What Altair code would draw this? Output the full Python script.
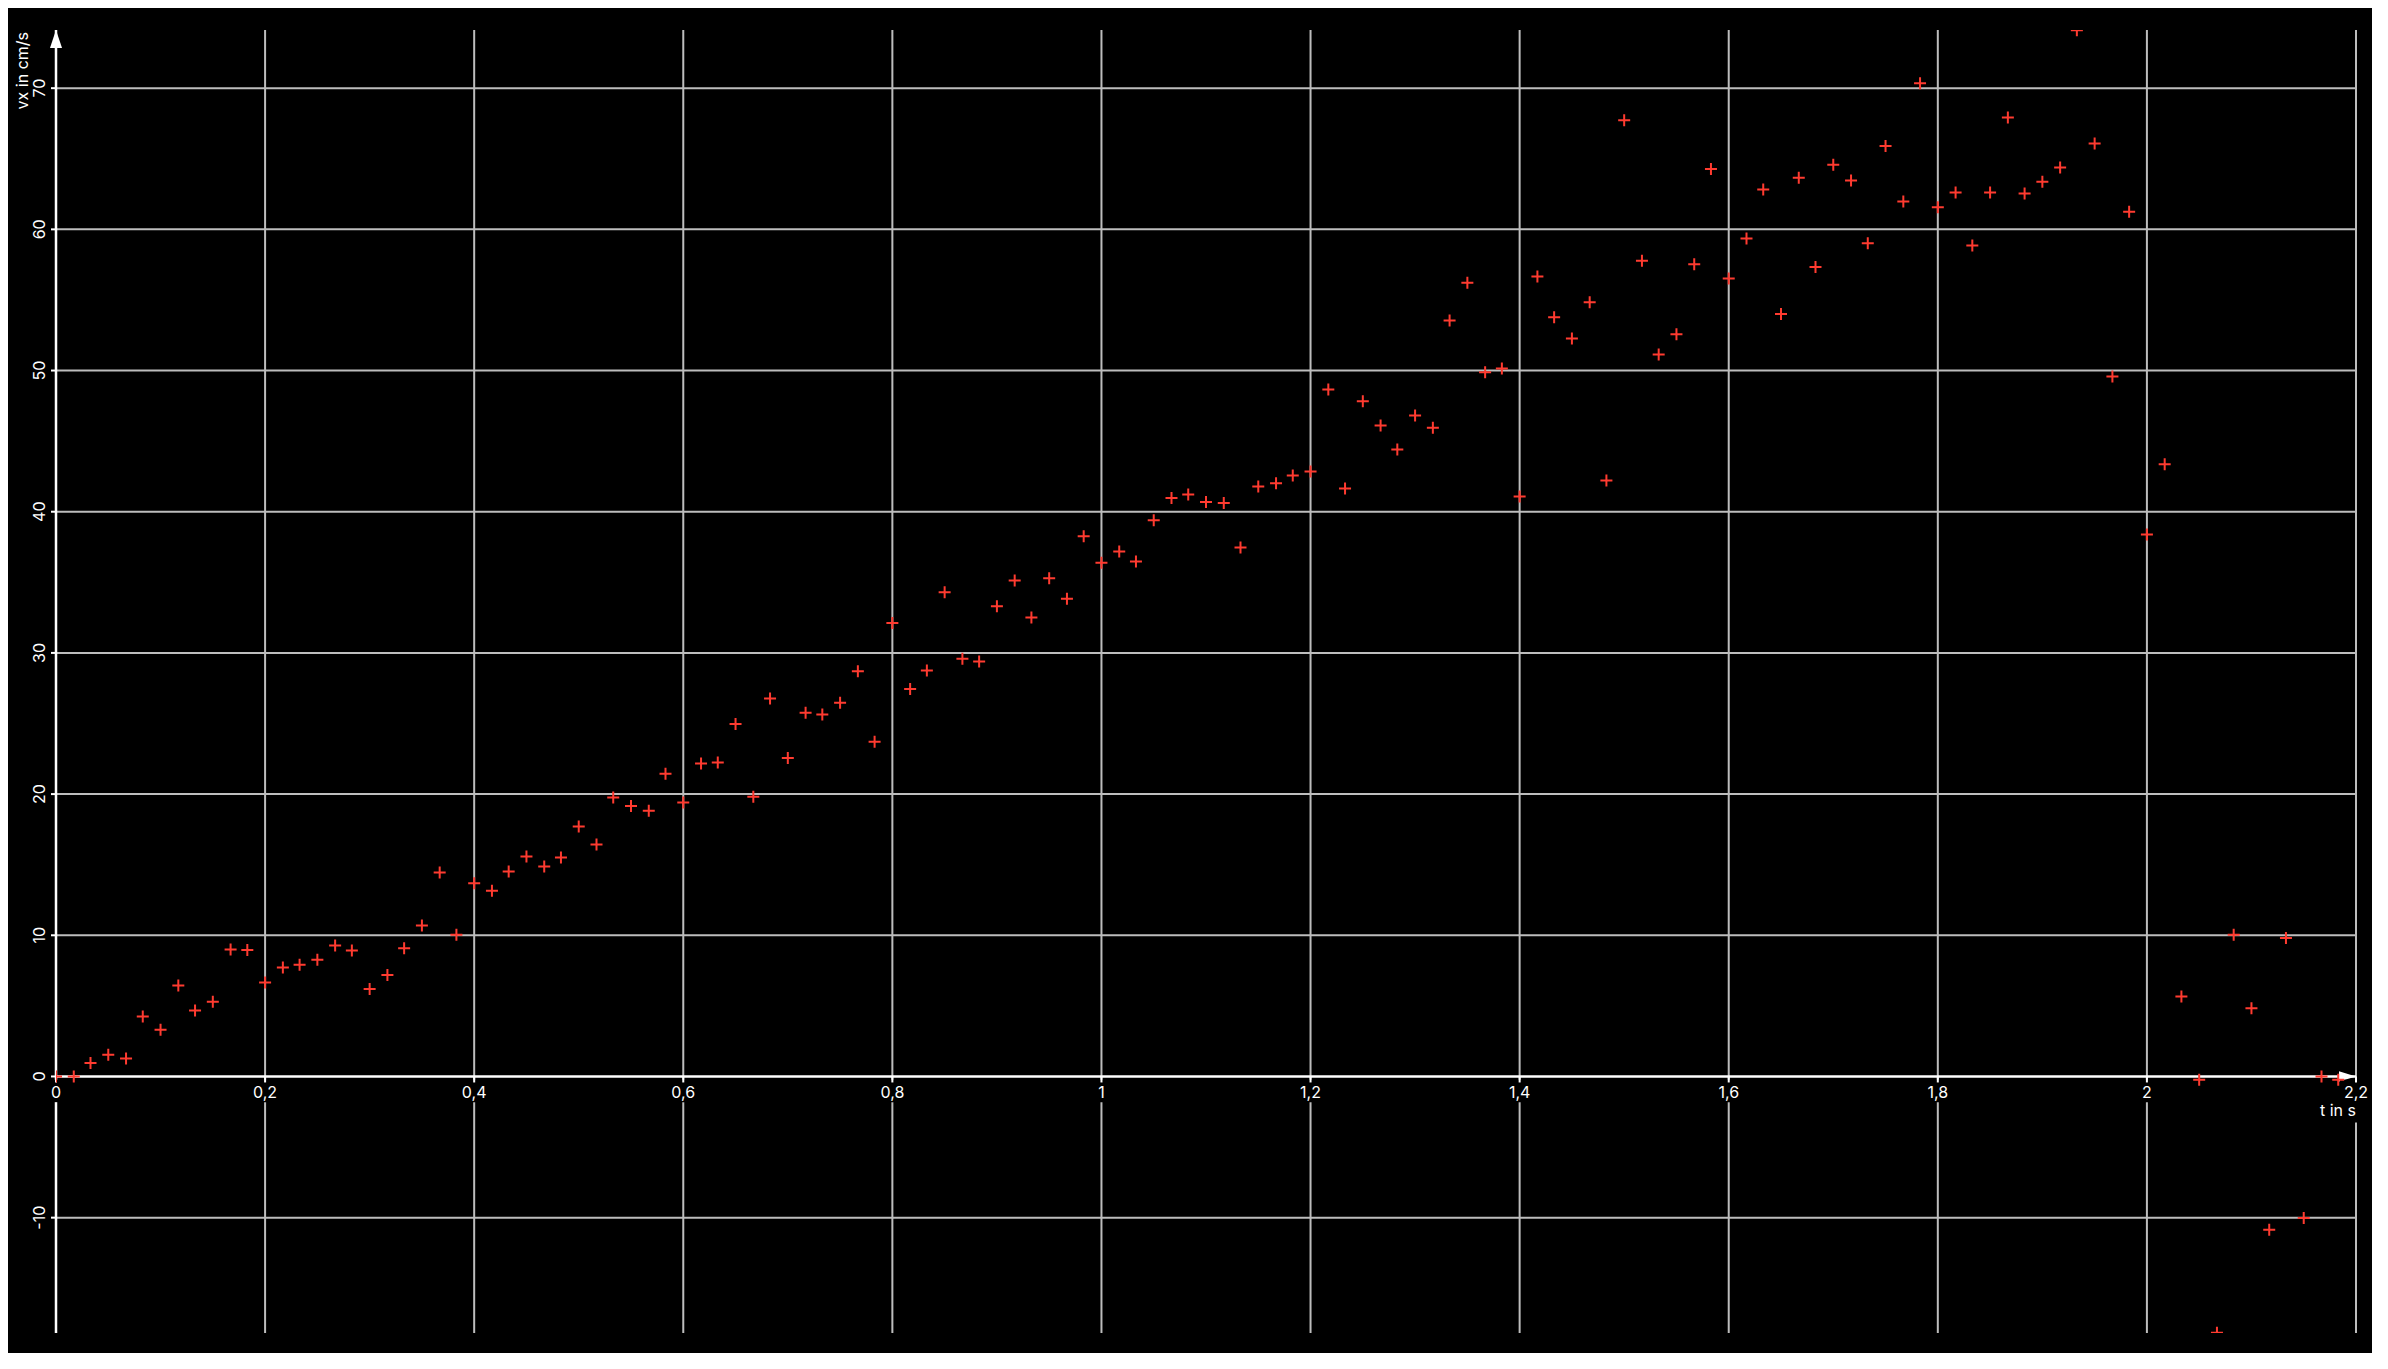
import altair as alt
import pandas as pd

# time stamps (s) and measured velocity vx (cm/s), 60 frames per second
T = [
    0.000, 0.017, 0.033, 0.050, 0.067, 0.083,
    0.100, 0.117, 0.133, 0.150, 0.167, 0.183,
    0.200, 0.217, 0.233, 0.250, 0.267, 0.283,
    0.300, 0.317, 0.333, 0.350, 0.367, 0.383,
    0.400, 0.417, 0.433, 0.450, 0.467, 0.483,
    0.500, 0.517, 0.533, 0.550, 0.567, 0.583,
    0.600, 0.617, 0.633, 0.650, 0.667, 0.683,
    0.700, 0.717, 0.733, 0.750, 0.767, 0.783,
    0.800, 0.817, 0.833, 0.850, 0.867, 0.883,
    0.900, 0.917, 0.933, 0.950, 0.967, 0.983,
    1.000, 1.017, 1.033, 1.050, 1.067, 1.083,
    1.100, 1.117, 1.133, 1.150, 1.167, 1.183,
    1.200, 1.217, 1.233, 1.250, 1.267, 1.283,
    1.300, 1.317, 1.333, 1.350, 1.367, 1.383,
    1.400, 1.417, 1.433, 1.450, 1.467, 1.483,
    1.500, 1.517, 1.533, 1.550, 1.567, 1.583,
    1.600, 1.617, 1.633, 1.650, 1.667, 1.683,
    1.700, 1.717, 1.733, 1.750, 1.767, 1.783,
    1.800, 1.817, 1.833, 1.850, 1.867, 1.883,
    1.900, 1.917, 1.933, 1.950, 1.967, 1.983,
    2.000, 2.017, 2.033, 2.050, 2.067, 2.083,
    2.100, 2.117, 2.133, 2.150, 2.167, 2.183,
]
VX = [
    0.0, 0.0, 0.95, 1.54, 1.28, 4.25,
    3.31, 6.45, 4.68, 5.29, 9.0, 8.95,
    6.66, 7.72, 7.91, 8.26, 9.28, 8.92,
    6.19, 7.18, 9.09, 10.69, 14.45, 10.03,
    13.69, 13.15, 14.52, 15.58, 14.87, 15.51,
    17.71, 16.43, 19.76, 19.15, 18.82, 21.44,
    19.41, 22.17, 22.24, 24.96, 19.81, 26.77,
    22.55, 25.76, 25.64, 26.47, 28.7, 23.7,
    32.11, 27.44, 28.75, 34.30, 29.58, 29.39,
    33.31, 35.13, 32.51, 35.29, 33.83, 38.27,
    36.38, 37.18, 36.47, 39.4, 40.98, 41.22,
    40.68, 40.61, 37.47, 41.78, 42.02, 42.57,
    42.85, 48.65, 41.64, 47.83, 46.11, 44.41,
    46.81, 45.94, 53.54, 56.21, 49.88, 50.14,
    41.08, 56.66, 53.78, 52.27, 54.84, 42.21,
    67.73, 57.77, 51.13, 52.57, 57.53, 64.28,
    56.52, 59.35, 62.82, 54.01, 63.65, 57.34,
    64.57, 63.46, 59.02, 65.91, 61.97, 70.35,
    61.57, 62.61, 58.85, 62.61, 67.92, 62.54,
    63.38, 64.38, 74.1, 66.08, 49.58, 61.24,
    38.39, 43.36, 5.67, -0.23, -18.15, 10.03,
    4.84, -10.86, 9.8, -10.03, 0.0, -0.23,
]

X_TICKS = [0, 0.2, 0.4, 0.6, 0.8, 1, 1.2, 1.4, 1.6, 1.8, 2, 2.2]
X_LABELS = ["0", "0,2", "0,4", "0,6", "0,8", "1", "1,2", "1,4", "1,6", "1,8", "2", "2,2"]
Y_TICKS = [-10, 0, 10, 20, 30, 40, 50, 60, 70]
Y_LABELS = ["-10", "0", "10", "20", "30", "40", "50", "60", "70"]

X_MIN, X_MAX = 0, 2.2
Y_MIN, Y_MAX = -18.17, 74.12

W, H = 2300, 1303
ZERO_PX = H * Y_MAX / (Y_MAX - Y_MIN)

FONT = "Inter"
GRID = "#bdbdbd"
RED = "#ff3b30"

xs = alt.Scale(domain=[X_MIN, X_MAX], nice=False, zero=False)
ys = alt.Scale(domain=[Y_MIN, Y_MAX], nice=False, zero=False)


def xf(field):
    return alt.X(field, type="quantitative", scale=xs, axis=None)


def yf(field):
    return alt.Y(field, type="quantitative", scale=ys, axis=None)


def xd(v):
    return alt.XDatum(v, scale=xs, axis=None)


def yd(v):
    return alt.YDatum(v, scale=ys, axis=None)


points = pd.DataFrame({"t": T, "vx": VX})
xticks = pd.DataFrame({"t": X_TICKS, "label": X_LABELS})
yticks = pd.DataFrame({"v": Y_TICKS, "label": Y_LABELS})
one = pd.DataFrame({"k": [0]})

grid_x = alt.Chart(xticks).transform_filter("datum.t > 0").mark_rule(color=GRID, strokeWidth=2).encode(x=xf("t"))
grid_y = alt.Chart(yticks).transform_filter("datum.v != 0").mark_rule(color=GRID, strokeWidth=2).encode(y=yf("v"))

axis_x = alt.Chart(one).mark_rule(color="white", strokeWidth=2.5).encode(y=yd(0))
axis_y = alt.Chart(one).mark_rule(color="white", strokeWidth=2.5).encode(x=xd(X_MIN))

arrow_x = alt.Chart(one).mark_point(
    shape="M1,0L-1,0.6L-1,-0.6Z", size=289, filled=True, color="white", opacity=1, xOffset=-8.5
).encode(x=xd(X_MAX), y=yd(0))
arrow_y = alt.Chart(one).mark_point(
    shape="M0,-1L0.67,1L-0.67,1Z", size=324, filled=True, color="white", opacity=1, yOffset=9
).encode(x=xd(X_MIN), y=yd(Y_MAX))

# black boxes behind the x labels, the grid lines stop there
label_bg = alt.Chart(xticks).mark_point(
    shape="M-1,-0.7L1,-0.7L1,0.7L-1,0.7Z", size=1024, filled=True, color="black", opacity=1, yOffset=14.5
).encode(x=xf("t"), y=yd(0))
title_bg = alt.Chart(one).mark_point(
    shape="M-1,-0.5L1,-0.5L1,0.5L-1,0.5Z", size=2116, filled=True, color="black", opacity=1,
    xOffset=-18, yOffset=34.5
).encode(x=xd(X_MAX), y=yd(0))

tick_x = alt.Chart(xticks).mark_rule(color="white", strokeWidth=2).encode(
    x=xf("t"), y=alt.value(ZERO_PX), y2=alt.value(ZERO_PX + 6)
)
tick_y = alt.Chart(yticks).mark_rule(color="white", strokeWidth=2).encode(
    y=yf("v"), x=alt.value(-5), x2=alt.value(0)
)

lab_x = alt.Chart(xticks).mark_text(
    color="white", font=FONT, fontSize=16, baseline="alphabetic", dy=22
).encode(x=xf("t"), y=yd(0), text="label:N")
lab_y = alt.Chart(yticks).mark_text(
    color="white", font=FONT, fontSize=16, angle=270, align="center", baseline="middle"
).encode(x=alt.value(-16), y=yf("v"), text="label:N")

title_x = alt.Chart(one).mark_text(
    text="t in s", color="white", font=FONT, fontSize=16, align="right", baseline="alphabetic", dy=40
).encode(x=xd(X_MAX), y=yd(0))
title_y = alt.Chart(one).mark_text(
    text="vx in cm/s", color="white", font=FONT, fontSize=16, angle=270, align="right", baseline="middle"
).encode(x=alt.value(-33), y=alt.value(2))

pts = alt.Chart(points).mark_point(
    shape="M-1,0L1,0M0,-1L0,1", size=144, filled=False, color=RED, strokeWidth=2, opacity=1, clip=True
).encode(x=xf("t"), y=yf("vx"))

chart = alt.layer(
    grid_x, grid_y, axis_x, axis_y, arrow_x, arrow_y, label_bg, title_bg,
    tick_x, tick_y, lab_x, lab_y, title_x, title_y, pts
).properties(
    width=W,
    height=H,
    autosize=alt.AutoSizeParams(type="none"),
    padding={"left": 48, "top": 22, "right": 16, "bottom": 20},
    background="black",
).configure_view(strokeWidth=0)

chart.save("out.html", embed_options={"renderer": "svg", "actions": False})
